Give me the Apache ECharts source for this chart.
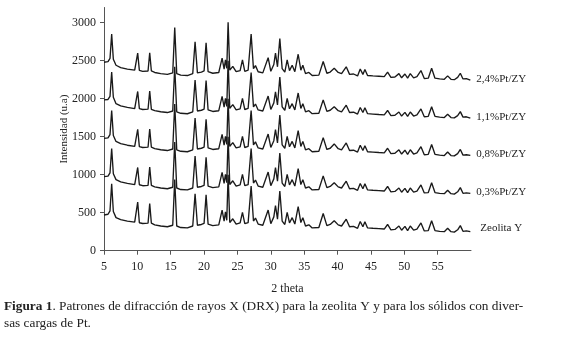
<!DOCTYPE html>
<html>
<head>
<meta charset="utf-8">
<script src="https://cdn.jsdelivr.net/npm/echarts@6/dist/echarts.min.js"></script>
<style>html,body{margin:0;padding:0;background:#fff}#c{width:580px;height:340px}</style>
</head>
<body>
<div id="c"></div>
<script>
const seriesNames = ['2,4%Pt/ZY', '1,1%Pt/ZY', '0,8%Pt/ZY', '0,3%Pt/ZY', 'Zeolita Y'];
const twoTheta = [
  5.0, 5.6, 5.9, 6.15, 6.4, 6.8, 7.5, 8.5, 9.6, 9.85,
  10.05, 10.3, 10.8, 11.6, 11.85, 12.1, 12.6, 13.5, 14.5, 15.3,
  15.6, 15.9, 16.5, 17.5, 18.3, 18.65, 19.0, 19.6, 20.0, 20.3,
  20.6, 21.3, 22.2, 22.7, 23.0, 23.2, 23.4, 23.6, 23.85, 24.3,
  24.8, 25.4, 25.75, 26.1, 26.6, 27.05, 27.4, 27.7, 28.1, 28.8,
  29.6, 30.0, 30.45, 30.7, 31.0, 31.35, 31.7, 32.1, 32.45, 32.8,
  33.2, 33.6, 34.1, 34.5, 34.8, 35.2, 35.7, 36.2, 37.2, 37.85,
  38.4, 38.9, 39.5, 40.1, 40.6, 41.3, 41.8, 42.4, 43.0, 43.4,
  43.8, 44.1, 44.5, 45.3, 46.2, 47.0, 47.5, 48.0, 48.6, 49.2,
  49.6, 50.1, 50.5, 50.9, 51.4, 51.9, 52.5, 53.0, 53.6, 54.1,
  54.6, 55.3, 56.0, 56.5, 57.0, 57.5, 58.0, 58.4, 58.8, 59.3,
  59.9
];
const pt24 = [
  2480, 2488, 2530, 2850, 2520, 2440, 2410, 2390, 2375, 2385,
  2600, 2372, 2360, 2365, 2605, 2365, 2345, 2330, 2320, 2340,
  2935, 2330, 2310, 2305, 2330, 2750, 2340, 2350, 2365, 2735,
  2355, 2335, 2345, 2535, 2390, 2510, 2400, 3005, 2375, 2425,
  2355, 2370, 2510, 2360, 2375, 2850, 2395, 2435, 2355, 2340,
  2540, 2360, 2450, 2600, 2420, 2790, 2395, 2350, 2510, 2370,
  2440, 2355, 2585, 2375, 2440, 2330, 2345, 2305, 2310, 2490,
  2335, 2350, 2400, 2345, 2330, 2420, 2320, 2325, 2300, 2390,
  2320, 2385, 2305, 2300, 2295, 2290, 2350, 2280, 2285, 2330,
  2275, 2325, 2270, 2330, 2275, 2290, 2370, 2265, 2270, 2400,
  2270, 2260, 2255, 2300, 2255, 2250, 2280, 2335, 2260, 2265,
  2245
];
const pt11 = [
  1985, 1990, 2030, 2350, 2020, 1935, 1905, 1885, 1870, 1880,
  2095, 1870, 1858, 1862, 2100, 1860, 1842, 1828, 1818, 1838,
  2420, 1828, 1808, 1802, 1828, 2245, 1838, 1848, 1862, 2240,
  1852, 1832, 1842, 2030, 1888, 2005, 1898, 2500, 1872, 1922,
  1852, 1866, 2005, 1858, 1872, 2345, 1892, 1930, 1852, 1838,
  2035, 1858, 1945, 2090, 1918, 2285, 1893, 1848, 2005, 1868,
  1935, 1852, 2075, 1872, 1935, 1828, 1842, 1803, 1808, 1985,
  1833, 1848, 1895, 1842, 1828, 1915, 1818, 1822, 1798, 1885,
  1818, 1880, 1803, 1798, 1792, 1788, 1845, 1778, 1782, 1825,
  1772, 1820, 1768, 1825, 1772, 1788, 1865, 1762, 1768, 1895,
  1768, 1758, 1752, 1795, 1752, 1748, 1778, 1830, 1758, 1762,
  1745
];
const pt08 = [
  1478, 1485, 1528, 1845, 1515, 1438, 1408, 1388, 1372, 1382,
  1598, 1370, 1358, 1362, 1600, 1362, 1342, 1328, 1318, 1338,
  1930, 1328, 1308, 1302, 1328, 1745, 1338, 1348, 1362, 1730,
  1352, 1332, 1342, 1530, 1388, 1505, 1398, 2000, 1372, 1422,
  1352, 1366, 1505, 1358, 1372, 1845, 1392, 1432, 1352, 1338,
  1535, 1358, 1448, 1595, 1418, 1785, 1392, 1348, 1505, 1368,
  1438, 1352, 1580, 1372, 1438, 1328, 1342, 1302, 1308, 1488,
  1332, 1348, 1405, 1342, 1328, 1418, 1318, 1322, 1298, 1388,
  1318, 1382, 1302, 1298, 1292, 1288, 1348, 1278, 1282, 1328,
  1272, 1322, 1268, 1328, 1272, 1288, 1368, 1262, 1268, 1398,
  1268, 1258, 1252, 1298, 1252, 1248, 1278, 1332, 1258, 1262,
  1255
];
const pt03 = [
  975, 982, 1025, 1345, 1012, 935, 905, 885, 870, 880,
  1095, 868, 855, 860, 1100, 860, 840, 825, 815, 835,
  1430, 825, 805, 800, 825, 1245, 835, 845, 860, 1230,
  850, 830, 840, 1030, 885, 1005, 895, 1500, 870, 920,
  850, 865, 1005, 855, 870, 1345, 890, 930, 850, 835,
  1035, 855, 945, 1095, 915, 1285, 890, 845, 1005, 865,
  935, 850, 1080, 870, 935, 825, 840, 800, 805, 985,
  830, 845, 895, 840, 825, 915, 815, 820, 795, 885,
  815, 880, 800, 795, 790, 785, 845, 775, 780, 825,
  770, 820, 765, 825, 770, 785, 865, 760, 765, 895,
  765, 755, 750, 795, 750, 745, 775, 830, 755, 760,
  755
];
const zeolitaY = [
  470, 480, 525, 880, 515, 435, 410, 390, 375, 385,
  640, 368, 358, 362, 620, 362, 340, 325, 315, 335,
  935, 325, 305, 300, 325, 750, 335, 345, 360, 735,
  350, 330, 340, 535, 390, 510, 400, 1000, 370, 420,
  350, 365, 505, 355, 370, 850, 390, 430, 350, 335,
  535, 355, 445, 595, 415, 785, 390, 345, 505, 365,
  435, 350, 580, 370, 435, 325, 340, 300, 305, 490,
  330, 345, 395, 340, 325, 415, 315, 320, 295, 385,
  315, 380, 300, 295, 290, 285, 345, 275, 280, 325,
  270, 320, 265, 325, 270, 285, 365, 260, 265, 395,
  265, 255, 250, 295, 250, 245, 275, 330, 255, 260,
  250
];
const yTicks = [0, 500, 1000, 1500, 2000, 2500, 3000];
const captionBold = 'Figura 1';
const captionRest = '. Patrones de difracción de rayos X (DRX) para la zeolita Y y para los sólidos con diver-\nsas cargas de Pt.';

const allValues = [pt24, pt11, pt08, pt03, zeolitaY];
const serif = '"Liberation Serif", "DejaVu Serif", serif';
const labelOffsets = [[0, -1], [0, -1], [0, -1], [0, -1], [4, -4]];

const chart = echarts.init(document.getElementById('c'), null, {renderer: 'canvas'});
chart.setOption({
  animation: false,
  backgroundColor: '#fff',
  title: {
    text: '{b|' + captionBold + '}' + captionRest,
    left: 4, top: 298, padding: 0,
    textStyle: {
      fontFamily: serif, fontSize: 13.3, fontWeight: 'normal', color: '#222', lineHeight: 17,
      rich: { b: { fontFamily: serif, fontSize: 13.3, fontWeight: 'bold', color: '#222', lineHeight: 17 } }
    }
  },
  grid: { left: 104, right: 109, top: 7.5, bottom: 89.3, containLabel: false },
  xAxis: {
    type: 'value', min: 5, max: 60, interval: 5,
    name: '2 theta', nameLocation: 'middle', nameGap: 32,
    nameTextStyle: { fontFamily: serif, fontSize: 12, color: '#222' },
    axisLine: { lineStyle: { color: '#555', width: 1 } },
    axisTick: { show: true, inside: false, length: 4, lineStyle: { color: '#555' } },
    axisLabel: { interval: 1, fontFamily: serif, fontSize: 12, color: '#222', margin: 10, showMaxLabel: false },
    splitLine: { show: false }
  },
  yAxis: {
    type: 'value', min: 0, max: 3200,
    name: 'Intensidad (u.a)', nameLocation: 'middle', nameGap: 34, nameRotate: 90,
    nameMoveOverlap: false,
    nameTextStyle: { fontFamily: serif, fontSize: 11, color: '#222' },
    axisLine: { show: true, lineStyle: { color: '#555', width: 1 } },
    axisTick: { show: true, inside: false, length: 4, customValues: yTicks, lineStyle: { color: '#555' } },
    axisLabel: {
      fontFamily: serif, fontSize: 12, color: '#222', margin: 8, customValues: yTicks,
      formatter: (v) => String(v)
    },
    splitLine: { show: false }
  },
  series: seriesNames.map((name, i) => ({
    type: 'line', name: name, showSymbol: false, symbol: 'none',
    data: twoTheta.map((x, j) => [x, allValues[i][j]]),
    lineStyle: { color: '#1a1a1a', width: 1.35 },
    endLabel: {
      show: true, formatter: name, distance: 6, offset: labelOffsets[i],
      fontFamily: serif, fontSize: 11, color: '#222'
    }
  }))
});
</script>
</body>
</html>
